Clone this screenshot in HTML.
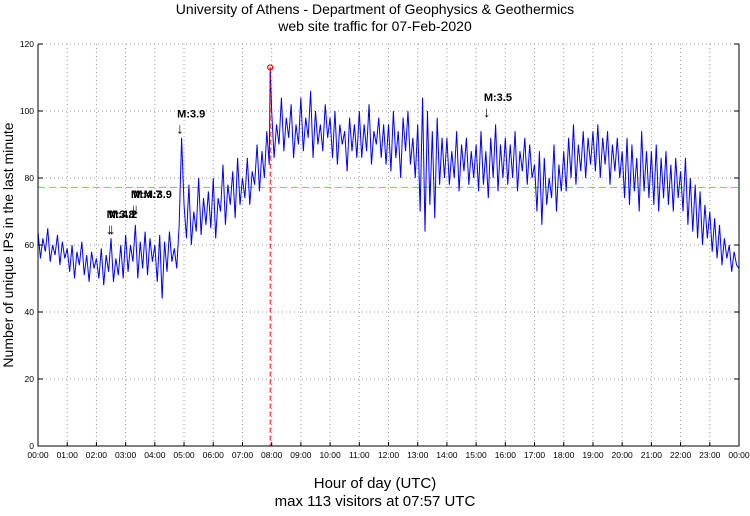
<!DOCTYPE html>
<html><head><meta charset="utf-8"><style>
body{margin:0;background:#fff;width:750px;height:511px;overflow:hidden}
svg{font-family:"Liberation Sans",sans-serif}
</style></head><body>
<svg id="chart" width="750" height="511">
<text x="375" y="14" text-anchor="middle" font-size="14">University of Athens - Department of Geophysics &amp; Geothermics</text>
<text x="375" y="31" text-anchor="middle" font-size="14">web site traffic for 07-Feb-2020</text>
<text transform="translate(13,245) rotate(-90)" text-anchor="middle" font-size="14">Number of unique IPs in the last minute</text>
<text x="375" y="488" text-anchor="middle" font-size="15">Hour of day (UTC)</text>
<text x="375" y="506" text-anchor="middle" font-size="15">max 113 visitors at 07:57 UTC</text>
<g id="grid"></g><g id="plot"></g><g id="axes"></g>
</svg>
<script>
const values = [
64,56,62,58,65,55,60,57,63,54,61,56,
59,52,60,50,58,54,61,51,57,49,58,53,
56,50,59,48,57,52,62,49,56,51,60,50,
63,52,60,55,66,50,61,53,64,51,62,55,
60,49,63,44,61,52,64,55,59,53,66,92,
72,62,78,60,70,64,80,63,74,66,76,65,
80,62,74,70,84,66,78,72,82,68,86,72,
80,74,86,72,82,78,90,76,88,80,94,84,
100,86,96,90,104,88,98,92,102,86,96,90,
104,88,98,92,106,86,100,90,96,88,102,92,
98,86,100,84,96,90,94,82,98,88,96,86,
100,86,96,88,102,84,94,90,98,86,96,84,
96,82,100,86,94,80,98,88,100,84,92,80,
96,70,104,64,100,72,94,68,98,78,92,80,
92,78,88,80,94,76,90,82,92,78,88,80,
90,76,94,78,88,74,92,80,96,76,90,80,
92,78,90,80,94,76,88,82,92,78,90,80,
84,70,88,66,86,72,80,74,90,70,84,76,
88,76,92,80,96,78,90,82,94,80,92,84,
94,82,96,80,92,84,94,78,90,82,92,80,
88,74,92,72,90,76,86,70,94,76,88,74,
88,72,90,70,86,74,88,72,84,70,86,74,
82,70,86,66,80,64,78,62,76,60,72,62,
70,58,68,56,66,54,62,56,60,52,58,54,
53];
const stepMinutes = 5;
const peakMinute = 477;
const peakValue = 113;
const averageValue = 77.2;
const yTicks = [0,20,40,60,80,100,120];
const hourLabels = ["00:00","01:00","02:00","03:00","04:00","05:00","06:00","07:00","08:00","09:00","10:00","11:00","12:00","13:00","14:00","15:00","16:00","17:00","18:00","19:00","20:00","21:00","22:00","23:00","00:00"];
const quakeLabels = ["M:3.9","M:3.5","M:M:3.9","M:4.7","M:3.8","M:4.2"];
const quakeMinutes = [290,920,195,200,145,150];
const quakeValues = [98,103,74,74,68,68];

const NS="http://www.w3.org/2000/svg";
const X0=38,X1=739,Y0=446,Y1=44;
const x=m=>X0+(X1-X0)*m/1440;
const y=v=>Y0-(Y0-Y1)*v/120;
function mk(tag,attrs,parent){const e=document.createElementNS(NS,tag);for(const k in attrs)e.setAttribute(k,attrs[k]);parent.appendChild(e);return e;}
const grid=document.getElementById('grid'),plot=document.getElementById('plot'),axes=document.getElementById('axes');
hourLabels.forEach((l,i)=>{
  const xx=x(i*60);
  if(i>0&&i<24){const g=mk('line',{x1:xx,x2:xx,y1:Y1,y2:Y0,stroke:'#999','stroke-dasharray':'1,3'},grid);
  
  }
  const t=mk('text',{x:xx,y:Y0+12,'text-anchor':'middle','font-size':8.5},axes);t.textContent=l;
  
  
  mk('line',{x1:xx,x2:xx,y1:Y0,y2:Y0-4,stroke:'#000'},axes);
});
yTicks.forEach(v=>{
  const yy=y(v);
  if(v>0){const g=mk('line',{x1:X0,x2:X1,y1:yy,y2:yy,stroke:'#999','stroke-dasharray':'1,3'},grid);
  
  }
  const t=mk('text',{x:X0-4,y:yy+3,'text-anchor':'end','font-size':8.5},axes);t.textContent=v;
  
  
  mk('line',{x1:X0,x2:X0+5,y1:yy,y2:yy,stroke:'#000'},axes);
  mk('line',{x1:X1,x2:X1-5,y1:yy,y2:yy,stroke:'#000'},axes);
});
const frame=mk('path',{d:`M${X0},${Y1}V${Y0}H${X1}V${Y1}`,fill:'none',stroke:'#000'},axes);


const avg=mk('line',{x1:X0,x2:X1,y1:y(averageValue),y2:y(averageValue),stroke:'#5d5','stroke-dasharray':'7,4'},plot);


let pts=[];
values.forEach((v,i)=>{const m=i*stepMinutes;
  if(pts.length&&m>peakMinute&&m-stepMinutes<peakMinute)pts.push([x(peakMinute),y(peakValue)]);
  pts.push([x(m),y(v)]);});
const line=mk('polyline',{points:pts.map(p=>p.join(',')).join(' '),fill:'none',stroke:'#00f','stroke-width':1},plot);


const pl=mk('line',{x1:x(peakMinute),x2:x(peakMinute),y1:y(peakValue),y2:Y0,stroke:'#f00','stroke-dasharray':'5,3'},plot);


const pc=mk('circle',{cx:x(peakMinute),cy:y(peakValue),r:2.5,fill:'none',stroke:'#f00','stroke-width':1.2},plot);


quakeLabels.forEach((l,i)=>{
  const xx=x(quakeMinutes[i]),yy=y(quakeValues[i]);
  const t=mk('text',{x:xx-2,y:yy,'font-size':11,'font-weight':'bold'},plot);t.textContent=l;
  
  
  const a=mk('text',{x:xx-3,y:yy+16,'font-size':15},plot);a.textContent='↓';
  
  
});
</script>
</body></html>
